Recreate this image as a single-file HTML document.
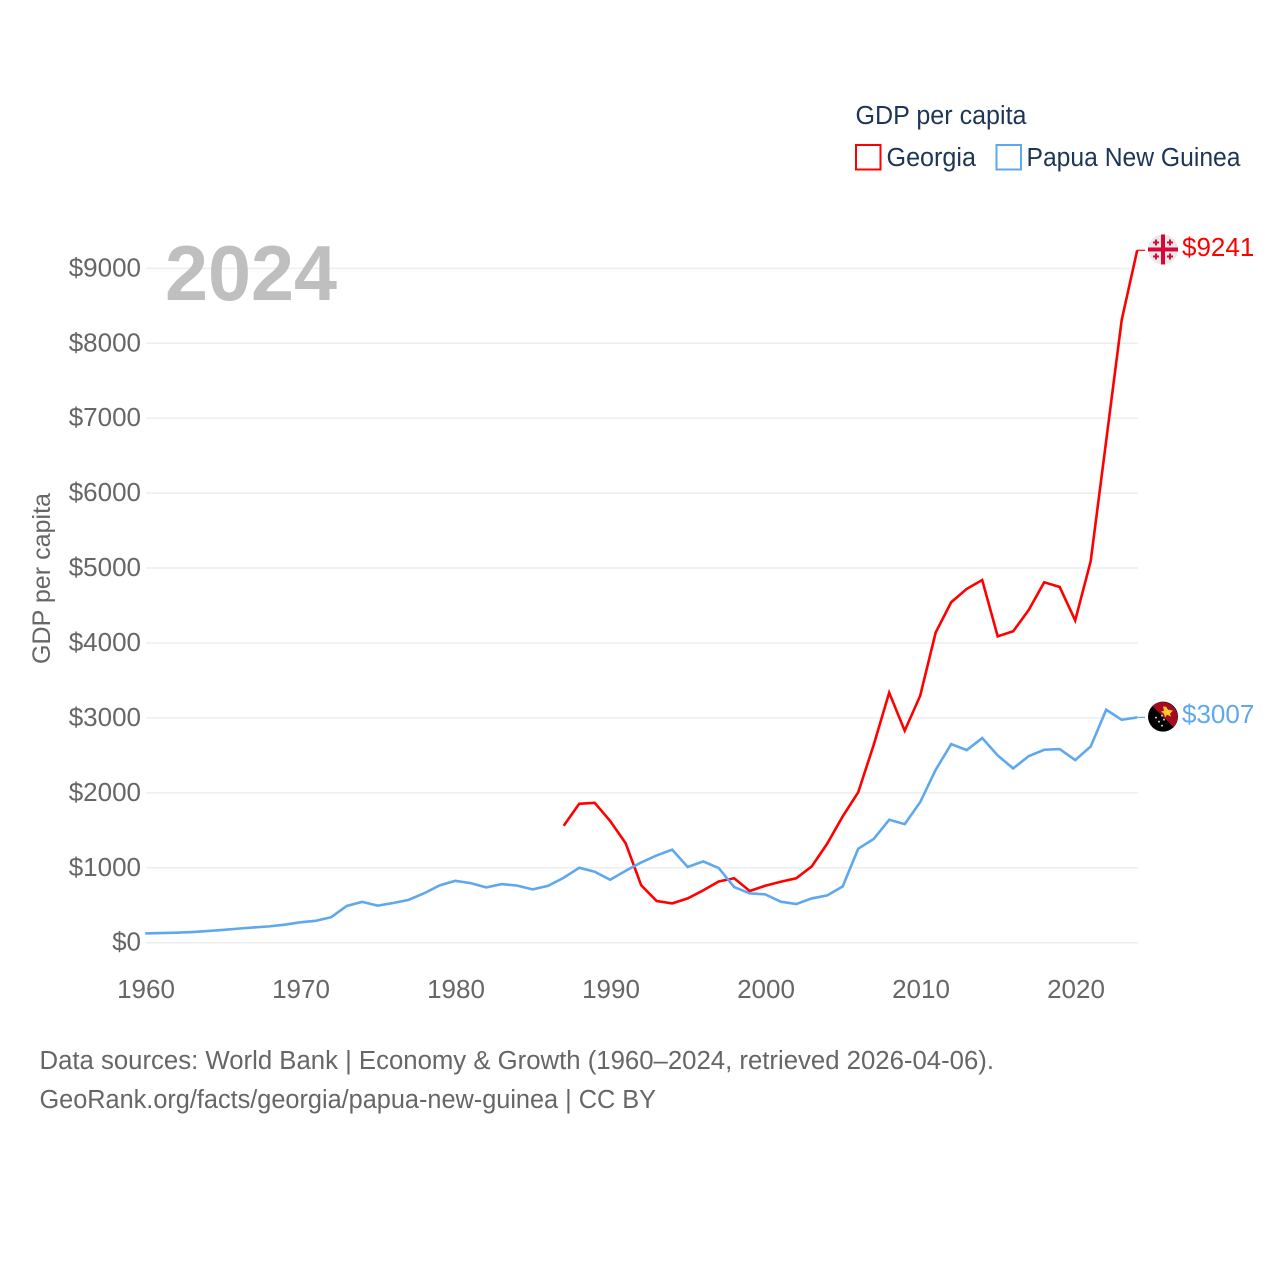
<!DOCTYPE html>
<html lang="en">
<head>
<meta charset="utf-8">
<title>GDP per capita: Georgia and Papua New Guinea</title>
<style>
  html, body { margin: 0; padding: 0; background: #fff; }
  svg { display: block; font-family: "Liberation Sans", sans-serif; }
</style>
</head>
<body>
<svg id="chart" width="1280" height="1280" viewBox="0 0 1280 1280" xmlns="http://www.w3.org/2000/svg">
  <rect x="0" y="0" width="1280" height="1280" fill="#fff"/>
  <g id="grid"></g>
  <g id="yticks"></g>
  <g id="xticks"></g>
  <text x="165" y="300" font-size="78" font-weight="700" fill="#bfbfbf" textLength="172" lengthAdjust="spacingAndGlyphs">2024</text>
  <text transform="translate(50 664) rotate(-90)" font-size="25" fill="#666" textLength="171" lengthAdjust="spacingAndGlyphs">GDP per capita</text>
  <g id="series"></g>
  <g id="endlabels"></g>

  <g>
    <text x="855.500" y="124" font-size="25.5" fill="#1d3557" textLength="171" lengthAdjust="spacingAndGlyphs">GDP per capita</text>
    <g>
      <rect x="856" y="145" width="24.500" height="24.500" fill="#fff" stroke="#ff0000" stroke-width="2"/>
      <text x="886.500" y="166" font-size="25.5" fill="#1d3557" textLength="89.500" lengthAdjust="spacingAndGlyphs">Georgia</text>
    </g>
    <g>
      <rect x="996.500" y="145" width="24.500" height="24.500" fill="#fff" stroke="#5fa8ee" stroke-width="2"/>
      <text x="1026.500" y="166" font-size="25.5" fill="#1d3557" textLength="214" lengthAdjust="spacingAndGlyphs">Papua New Guinea</text>
    </g>
  </g>

  <g>
    <text x="39.500" y="1069" font-size="25.500" fill="#666" textLength="954.500" lengthAdjust="spacingAndGlyphs">Data sources: World Bank | Economy &amp; Growth (1960–2024, retrieved 2026-04-06).</text>
    <text x="39.500" y="1108" font-size="25.500" fill="#666" textLength="616.500" lengthAdjust="spacingAndGlyphs">GeoRank.org/facts/georgia/papua-new-guinea | CC BY</text>
  </g>
</svg>

<script>
const yTickValues = [0, 1000, 2000, 3000, 4000, 5000, 6000, 7000, 8000, 9000];
const xTickYears = [1960, 1970, 1980, 1990, 2000, 2010, 2020];
const pngStartYear = 1960;
const pngValues = [124, 128, 133, 142, 155, 170, 188, 204, 218, 240, 272, 292, 340, 490, 545, 494, 530, 572, 660, 765, 825, 795, 738, 782, 762, 711, 760, 867, 1000, 947, 840, 960, 1071, 1165, 1241, 1010, 1085, 996, 743, 658, 645, 547, 516, 591, 631, 751, 1254, 1385, 1641, 1583, 1876, 2308, 2651, 2570, 2731, 2499, 2326, 2490, 2575, 2584, 2437, 2619, 3109, 2975, 3007];
const georgiaStartYear = 1987;
const georgiaValues = [1561, 1854, 1867, 1624, 1326, 766, 556, 525, 591, 698, 817, 860, 690, 760, 814, 860, 1018, 1322, 1685, 2007, 2640, 3337, 2829, 3296, 4141, 4544, 4722, 4840, 4089, 4156, 4440, 4810, 4747, 4301, 5092, 6700, 8310, 9241];

const NS = 'http://www.w3.org/2000/svg';
const xScale = function (year) { return 146 + (year - 1960) * 15.5; };
const yScale = function (value) { return 942.7 - value * 0.07493; };

function make(tag, attrs, parent) {
  const el = document.createElementNS(NS, tag);
  Object.keys(attrs).forEach(function (k) { el.setAttribute(k, attrs[k]); });
  parent.appendChild(el);
  return el;
}

const gridGroup = document.getElementById('grid');
const yTickGroup = document.getElementById('yticks');
const xTickGroup = document.getElementById('xticks');
const seriesGroup = document.getElementById('series');
const labelGroup = document.getElementById('endlabels');

yTickValues.forEach(function (v) {
  const line = make('line', { x1: 146, x2: 1138, y1: yScale(v), y2: yScale(v), stroke: '#eeeeee', 'stroke-width': 1.5 }, gridGroup);
  
  
  const label = make('text', { x: 141, y: yScale(v) + 8, 'text-anchor': 'end', 'font-size': 26, fill: '#666' }, yTickGroup);
  label.textContent = '$' + v;
  
  
});

xTickYears.forEach(function (year) {
  const label = make('text', { x: xScale(year), y: 998, 'text-anchor': 'middle', 'font-size': 26, fill: '#666' }, xTickGroup);
  label.textContent = String(year);
  
  
});

function drawSeries(values, startYear, color, seriesName) {
  const pts = values.map(function (v, i) {
    return (xScale(startYear + i) - 0.8).toFixed(2) + ',' + yScale(v).toFixed(2);
  }).join(' ');
  const line = make('polyline', { points: pts, fill: 'none', stroke: color, 'stroke-width': 2.6, 'stroke-linejoin': 'miter' }, seriesGroup);
  
  

  const last = values[values.length - 1];
  const lastX = xScale(startYear + values.length - 1) - 0.8;
  const tail = make('line', { x1: lastX, x2: 1145, y1: yScale(last), y2: yScale(last), stroke: color, 'stroke-width': 1.2 }, seriesGroup);
  
  

  const value = make('text', { x: 1182, y: yScale(last) + 5.5, 'font-size': 26, fill: color }, labelGroup);
  value.textContent = '$' + last;
  
  
  return yScale(last) - 0.8;
}

const georgiaFlagY = drawSeries(georgiaValues, georgiaStartYear, '#ff0000', 'georgia');
const pngFlagY = drawSeries(pngValues, pngStartYear, '#5fa8ee', 'papua-new-guinea');

/* Georgia flag badge */
const gf = make('g', { transform: 'translate(1163 ' + georgiaFlagY + ')' }, labelGroup);


make('circle', { cx: 0, cy: 0, r: 15, fill: '#e9e9e9' }, gf);
make('rect', { x: -15, y: -2, width: 30, height: 4, fill: '#d8073a' }, gf);
make('rect', { x: -2, y: -15, width: 4, height: 30, fill: '#d8073a' }, gf);
[[-7, -7], [7, -7], [-7, 7], [7, 7]].forEach(function (c) {
  make('rect', { x: c[0] - 1, y: c[1] - 3, width: 2, height: 6, fill: '#d8073a' }, gf);
  make('rect', { x: c[0] - 3, y: c[1] - 1, width: 6, height: 2, fill: '#d8073a' }, gf);
});

/* Papua New Guinea flag badge */
const pf = make('g', { transform: 'translate(1163 ' + pngFlagY + ')' }, labelGroup);


make('circle', { cx: 0, cy: 0, r: 15, fill: '#000' }, pf);
make('path', { d: 'M -10.600 -10.600 A 15 15 0 0 1 10.600 10.600 Z', fill: '#a50a20' }, pf);
make('path', { d: 'M 0 -10 L 3 -10 L 5 -7 L 10 -6 L 7 -3 L 8 0 L 4 -2 L 2 1 L 1 -3 L -2 -5 L 1 -6 Z', fill: '#fcc92b' }, pf);
[[-7, 1], [-1, -1], [-4, 5], [1, 3], [-1, 9]].forEach(function (c) {
  make('circle', { cx: c[0], cy: c[1], r: 1, fill: '#c8d8e6' }, pf);
});
</script>
</body>
</html>
